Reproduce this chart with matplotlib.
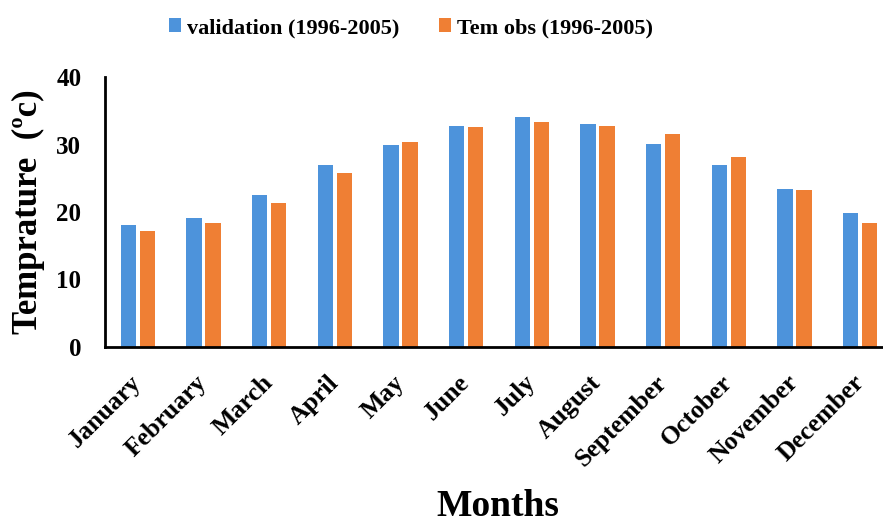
import matplotlib
matplotlib.use("Agg")
import matplotlib.pyplot as plt
import numpy as np

months = ["January", "February", "March", "April", "May", "June", "July",
          "August", "September", "October", "November", "December"]
validation = [18.1, 19.1, 22.5, 27.0, 30.0, 32.7, 34.1, 33.1, 30.1, 27.0, 23.4, 19.9]
tem_obs = [17.2, 18.3, 21.4, 25.8, 30.4, 32.6, 33.4, 32.7, 31.6, 28.1, 23.3, 18.3]
yticks = [0, 10, 20, 30, 40]
label_val = "validation (1996-2005)"
label_obs = "Tem obs (1996-2005)"

plt.rcParams['font.family'] = ['Liberation Serif', 'DejaVu Serif']
plt.rcParams['font.weight'] = 'bold'

W, H = 883, 523
fig = plt.figure(figsize=(W / 100, H / 100), dpi=100)
ax = fig.add_axes([105 / W, 1 - 347 / H, 788 / W, 270 / H])

x = np.arange(len(months))
bw = 0.23
off = 0.145
c_blue = "#4D93DB"
c_orange = "#EF7F34"
ax.bar(x - off, validation, bw, color=c_blue, label=label_val)
ax.bar(x + off, tem_obs, bw, color=c_orange, label=label_obs)

ax.set_xlim(-0.5, 11.5)
ax.set_ylim(0, 40)
ax.set_yticks(yticks)
ax.set_yticklabels([str(v) for v in yticks], fontsize=18, fontweight='bold')
ax.tick_params(axis='y', length=0, pad=17)
ax.tick_params(axis='x', length=0, pad=23)
ax.set_xticks(x)
ax.set_xticklabels(months, rotation=45, ha='right', va='center',
                   rotation_mode='anchor', fontsize=18.5, fontweight='bold')

for s in ['top', 'right']:
    ax.spines[s].set_visible(False)
for s in ['left', 'bottom']:
    ax.spines[s].set_linewidth(2)
    ax.spines[s].set_color('black')

fig.text(28 / W, 1 - 212 / H, "Temprature  (ºc)", rotation=90, ha='center',
         va='center', fontsize=25, fontweight='bold')
fig.text(498 / W, 1 - 506 / H, "Months", ha='center', va='center',
         fontsize=27, fontweight='bold')

leg = fig.legend(loc='center', bbox_to_anchor=(411 / W, 1 - 28 / H), ncol=2,
                 frameon=False, handlelength=0.55, handleheight=0.55,
                 handletextpad=0.25, columnspacing=1.8,
                 prop={'weight': 'bold', 'size': 16})

fig.savefig("out.png", dpi=100)
